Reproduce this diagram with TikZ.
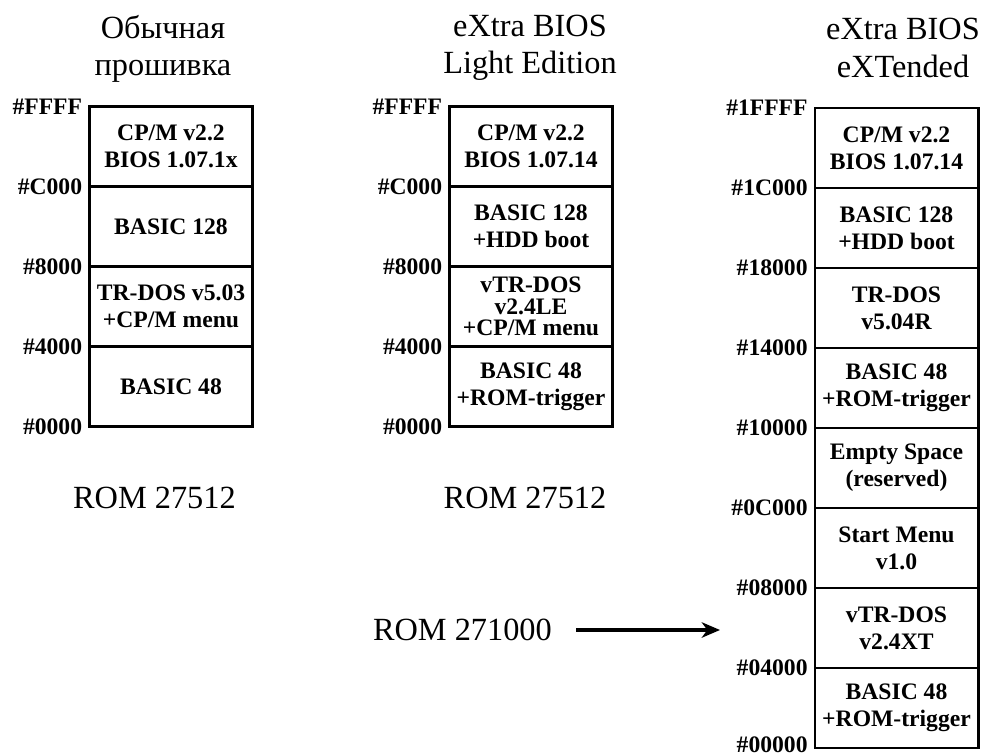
\documentclass[tikz,border=0pt]{standalone}
\usepackage{fontspec}
\setmainfont{Liberation Serif}
\usetikzlibrary{positioning,arrows.meta}

\begin{document}
\begin{tikzpicture}
  \tikzstyle{seg} = [rectangle, draw=black, line width=2pt, outer sep=0pt, inner sep=0pt, minimum width=4.08cm, minimum height=2cm, align=center, font=\fontsize{16.8}{19.2}\selectfont\bfseries]
  \tikzstyle{addr} = [inner sep=0pt, font=\fontsize{16.8}{19.2}\selectfont\bfseries]
  \tikzstyle{title} = [align=center, font=\fontsize{23}{26.5}\selectfont]
  \tikzstyle{rom} = [font=\fontsize{23}{26}\selectfont]
  \tikzstyle{arrow} = [-{Stealth[length=13pt, width=11pt, inset=4pt]}, line width=2.2pt]

  \useasboundingbox (0,0) rectangle (24.525,-18.9);

  % titles
  \node[title] (t1) at (4.075,-1.22) {Обычная\\прошивка};
  \node[title] (t2) at (13.25,-1.2) {eXtra BIOS\\Light Edition};
  \node[title] (t3) at (22.575,-1.2) {eXtra BIOS\\eXTended};

  % standard firmware
  \node[seg] (c1a) at (4.275,-3.6625) {CP/M v2.2\\BIOS 1.07.1x};
  \node[seg, below=0pt of c1a] (c1b) {BASIC 128};
  \node[seg, below=0pt of c1b] (c1c) {TR-DOS v5.03\\+CP/M menu};
  \node[seg, below=0pt of c1c] (c1d) {BASIC 48};

  \node[addr, left=5pt of c1a.north west] (a1ffff) {\#FFFF};
  \node[addr, left=5pt of c1a.south west] (a1c000) {\#C000};
  \node[addr, left=5pt of c1b.south west] (a18000) {\#8000};
  \node[addr, left=5pt of c1c.south west] (a14000) {\#4000};
  \node[addr, left=5pt of c1d.south west] (a10000) {\#0000};

  \node[rom] (rom1) at (3.86,-12.45) {ROM 27512};

  % light edition
  \node[seg] (c2a) at (13.275,-3.6625) {CP/M v2.2\\BIOS 1.07.14};
  \node[seg, below=0pt of c2a] (c2b) {BASIC 128\\+HDD boot};
  \node[seg, below=0pt of c2b] (c2c) {vTR-DOS\\[-4pt]v2.4LE\\[-4pt]+CP/M menu};
  \node[seg, below=0pt of c2c] (c2d) {BASIC 48\\+ROM-trigger};

  \node[addr, left=5pt of c2a.north west] (a2ffff) {\#FFFF};
  \node[addr, left=5pt of c2a.south west] (a2c000) {\#C000};
  \node[addr, left=5pt of c2b.south west] (a28000) {\#8000};
  \node[addr, left=5pt of c2c.south west] (a24000) {\#4000};
  \node[addr, left=5pt of c2d.south west] (a20000) {\#0000};

  \node[rom] (rom2) at (13.125,-12.45) {ROM 27512};

  % extended
  \node[seg] (c3a) at (22.4125,-3.7) {CP/M v2.2\\BIOS 1.07.14};
  \node[seg, below=0pt of c3a] (c3b) {BASIC 128\\+HDD boot};
  \node[seg, below=0pt of c3b] (c3c) {TR-DOS\\v5.04R};
  \node[seg, below=0pt of c3c] (c3d) {BASIC 48\\+ROM-trigger};
  \node[seg, below=0pt of c3d] (c3e) {Empty Space\\(reserved)};
  \node[seg, below=0pt of c3e] (c3f) {Start Menu\\v1.0};
  \node[seg, below=0pt of c3f] (c3g) {vTR-DOS\\v2.4XT};
  \node[seg, below=0pt of c3g] (c3h) {BASIC 48\\+ROM-trigger};

  \node[addr, left=5pt of c3a.north west] (a31ffff) {\#1FFFF};
  \node[addr, left=5pt of c3a.south west] (a31c000) {\#1C000};
  \node[addr, left=5pt of c3b.south west] (a318000) {\#18000};
  \node[addr, left=5pt of c3c.south west] (a314000) {\#14000};
  \node[addr, left=5pt of c3d.south west] (a310000) {\#10000};
  \node[addr, left=5pt of c3e.south west] (a30c000) {\#0C000};
  \node[addr, left=5pt of c3f.south west] (a308000) {\#08000};
  \node[addr, left=5pt of c3g.south west] (a304000) {\#04000};
  \node[addr, left=5pt of c3h.south west, yshift=2pt] (a300000) {\#00000};

  \node[rom] (rom3) at (11.56,-15.75) {ROM 271000};
  \coordinate (tip) at (18.0,-15.75);
  \draw[arrow, shorten <=14pt] (rom3) -- (tip);
\end{tikzpicture}
\end{document}
